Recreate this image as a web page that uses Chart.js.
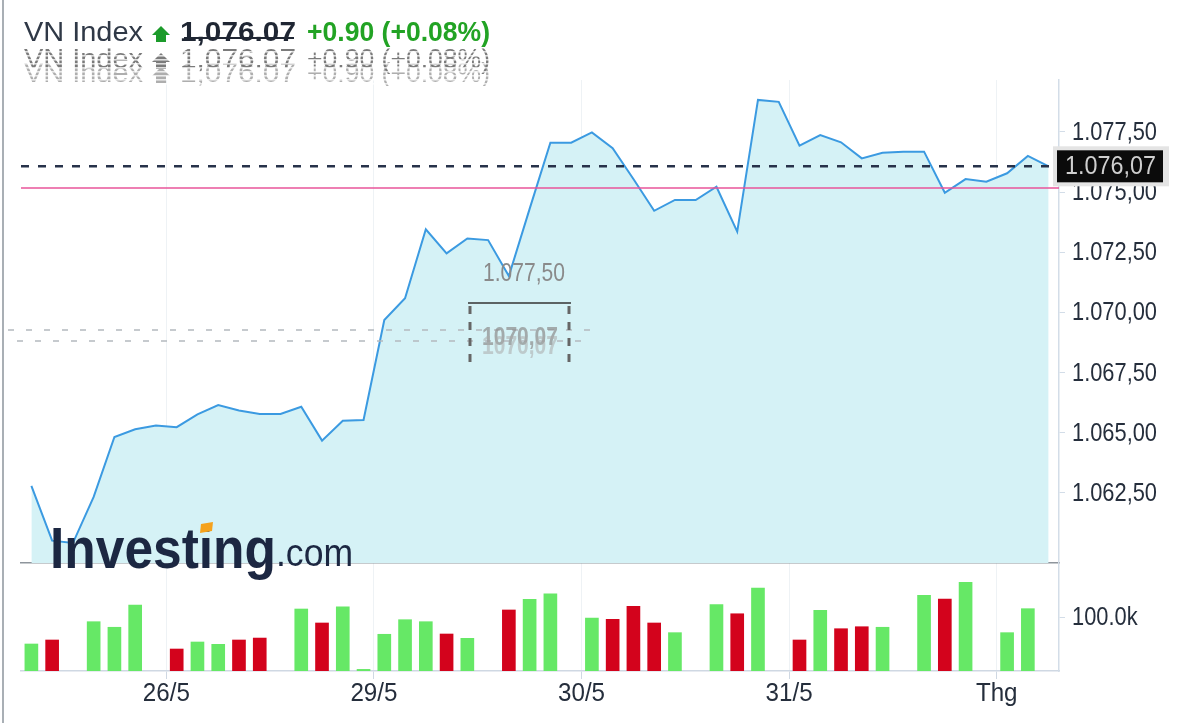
<!DOCTYPE html>
<html lang="vi">
<head>
<meta charset="UTF-8">
<title>VN Index</title>
<style>
  html, body { margin: 0; padding: 0; background: #fff; }
  #wrap { position: relative; width: 1181px; height: 723px; overflow: hidden; }
  canvas { position: absolute; left: 0; }
  #vol { top: 563px; z-index: 1; }
  #price { top: 0; z-index: 2; }
</style>
</head>
<body>
<div id="wrap">
  <canvas id="vol" width="1181" height="160" style="width:1181px;height:160px"></canvas>
  <canvas id="price" width="1181" height="723" style="width:1181px;height:723px"></canvas>
</div>
<script src="https://cdn.jsdelivr.net/npm/chart.js@4.4.1/dist/chart.umd.min.js"></script>
<script>
// one slot per intraday bar, 10 slots per trading day
const prices = [
  1062.78, 1060.50, 1060.40, 1062.32, 1064.81, 1065.13, 1065.29, 1065.22, 1065.75, 1066.14,
  1065.91, 1065.77, 1065.77, 1066.07, 1064.66, 1065.49, 1065.52, 1069.68, 1070.58, 1073.45,
  1072.45, 1073.07, 1073.00, 1071.51, 1074.30, 1077.05, 1077.05, 1077.48, 1076.82, 1075.54,
  1074.22, 1074.67, 1074.67, 1075.22, 1073.35, 1078.83, 1078.75, 1076.93, 1077.37, 1077.07,
  1076.40, 1076.63, 1076.68, 1076.68, 1074.97, 1075.54, 1075.43, 1075.78, 1076.50, 1076.07
];
const volumes = [
  50000, 57400, null, 91300, 81000, 122000, null, 40700, 53700, 49400,
  57400, 61000, null, 114800, 88900, 119000, 3000, 68000, 95000, 91300,
  68500, 60500, null, 113000, 132700, 143000, null, 98000, 95700, 119800,
  88900, 71000, null, 122800, 106000, 153700, null, 57400, 112400, 78300,
  82000, 81000, null, 140000, 133300, 164000, null, 71000, 115400, null
];
const volDir = [
  'u','d',null,'u','u','u',null,'d','u','u',
  'd','d',null,'u','d','u','u','u','u','u',
  'd','u',null,'d','u','u',null,'u','d','d',
  'd','u',null,'u','d','u',null,'d','u','d',
  'd','u',null,'u','d','u',null,'u','u',null
];
const dayLabels = ['26/5', '29/5', '30/5', '31/5', 'Thg'];
const daySlots = [6.5, 16.5, 26.5, 36.5, 46.5];
const priceTicks = [1062.5, 1065, 1067.5, 1070, 1072.5, 1075, 1077.5];
const volTicks = [100000];
const lastPrice = 1076.07;
const prevClose = 1075.17;
const change = '+0.90';
const changePct = '(+0.08%)';

const SANS = '"Liberation Sans", Arial, sans-serif';
const TXT = '#252e3c';
const AXIS = '#d3dde8';

function fmtVN(v) {
  const p = v.toFixed(2).split('.');
  return p[0].replace(/\B(?=(\d{3})+(?!\d))/g, '.') + ',' + p[1];
}

function fitText(ctx, text, x, y, w) {
  const m = ctx.measureText(text).width;
  ctx.save();
  ctx.translate(x, y);
  if (w && m > 0) ctx.scale(w / m, 1);
  ctx.fillText(text, 0, 0);
  ctx.restore();
}

function squeezeText(ctx, text, x, y, k) {
  ctx.save();
  ctx.translate(x, y);
  ctx.scale(k, 1);
  ctx.fillText(text, 0, 0);
  ctx.restore();
}

// tick labels in the tall, narrow face of the original
const narrowLabels = {
  id: 'narrowLabels',
  afterDraw(chart) {
    const ctx = chart.ctx;
    ctx.save();
    ctx.fillStyle = TXT;
    ctx.font = '26px ' + SANS;
    ctx.textBaseline = 'middle';
    const y = chart.scales.y;
    ctx.textAlign = 'left';
    y.ticks.forEach((t, i) => {
      const label = y.options.ticks.callback(t.value, i, y.ticks);
      squeezeText(ctx, label, y.left + 13, y.getPixelForValue(t.value) + 1, 0.84);
    });
    const x = chart.scales.x;
    if (chart.canvas.id === 'vol') {
      ctx.textAlign = 'center';
      x.ticks.forEach((t, i) => {
        const label = x.options.ticks.callback(t.value, i, x.ticks);
        squeezeText(ctx, label, x.getPixelForValue(t.value), x.top + 23, 0.93);
      });
    }
    ctx.restore();
  }
};

function drawHeader(ctx, y, ghost) {
  ctx.font = '28px ' + SANS;
  ctx.fillStyle = ghost || '#2f3846';
  fitText(ctx, 'VN Index', 24, y, 119);
  // up arrow
  ctx.fillStyle = ghost || '#1c9b2b';
  ctx.beginPath();
  ctx.moveTo(161, y - 15); ctx.lineTo(170, y - 6); ctx.lineTo(152, y - 6); ctx.closePath();
  ctx.fill();
  ctx.fillRect(156, y - 6, 10, 7);
  ctx.font = (ghost ? '' : 'bold ') + '28px ' + SANS;
  ctx.fillStyle = ghost || '#1f2633';
  fitText(ctx, lastPrice.toLocaleString('en-US', { minimumFractionDigits: 2 }), 180, y, 116);
  ctx.fillStyle = ghost || '#22a324';
  fitText(ctx, change + ' ' + changePct, 307, y, 183);
}

const overlay = {
  id: 'overlay',
  afterDraw(chart) {
    const ctx = chart.ctx;
    const a = chart.chartArea;
    const ys = chart.scales.y;
    ctx.save();

    // previous close (pink) and last price (dashed)
    const yPrev = ys.getPixelForValue(prevClose);
    ctx.strokeStyle = '#e8559a';
    ctx.lineWidth = 1.6;
    ctx.beginPath(); ctx.moveTo(a.left, yPrev); ctx.lineTo(a.right, yPrev); ctx.stroke();

    const yLast = ys.getPixelForValue(lastPrice);
    ctx.strokeStyle = '#27324a';
    ctx.lineWidth = 2.6;
    ctx.setLineDash([8, 9]);
    ctx.beginPath(); ctx.moveTo(a.left, yLast); ctx.lineTo(a.right, yLast); ctx.stroke();
    ctx.setLineDash([]);

    // last price label box
    ctx.fillStyle = '#e4e4e4';
    ctx.fillRect(a.right - 6, yLast - 20, 116, 40);
    ctx.fillStyle = '#0b0b0b';
    ctx.fillRect(a.right - 2, yLast - 16, 106, 32);
    ctx.fillStyle = '#cfcfcf';
    ctx.font = '26px ' + SANS;
    ctx.textBaseline = 'middle';
    fitText(ctx, fmtVN(lastPrice), a.right + 6, yLast + 1, 91);
    ctx.textBaseline = 'alphabetic';

    // crosshair leftovers
    ctx.strokeStyle = '#b4b9be';
    ctx.lineWidth = 1.5;
    ctx.setLineDash([6, 12]);
    ctx.beginPath(); ctx.moveTo(8, 330); ctx.lineTo(590, 330); ctx.stroke();
    ctx.lineDashOffset = 9;
    ctx.beginPath(); ctx.moveTo(8, 341); ctx.lineTo(590, 341); ctx.stroke();
    ctx.lineDashOffset = 0;
    ctx.strokeStyle = '#666';
    ctx.lineWidth = 3;
    ctx.setLineDash([8, 8]);
    ctx.beginPath(); ctx.moveTo(470, 306); ctx.lineTo(470, 368); ctx.stroke();
    ctx.beginPath(); ctx.moveTo(569, 306); ctx.lineTo(569, 368); ctx.stroke();
    ctx.setLineDash([]);
    ctx.strokeStyle = '#333';
    ctx.lineWidth = 1.5;
    ctx.beginPath(); ctx.moveTo(468, 303); ctx.lineTo(571, 303); ctx.stroke();
    ctx.font = '26px ' + SANS;
    ctx.fillStyle = '#8a8a8a';
    fitText(ctx, fmtVN(1077.5), 483, 281, 82);
    ctx.font = 'bold 26px ' + SANS;
    ctx.fillStyle = 'rgba(140,140,140,0.7)';
    fitText(ctx, '1070,07', 482, 345, 76);
    ctx.fillStyle = 'rgba(170,170,170,0.55)';
    fitText(ctx, '1070,07', 482, 354, 76);

    // header and its ghost copies
    drawHeader(ctx, 41, null);
    ctx.strokeStyle = '#1f2633';
    ctx.lineWidth = 2;
    ctx.beginPath(); ctx.moveTo(184, 38); ctx.lineTo(294, 38); ctx.stroke();
    ctx.save();
    ctx.beginPath(); ctx.rect(0, 46, 520, 40); ctx.clip();
    drawHeader(ctx, 68, 'rgba(90,90,90,0.8)');
    drawHeader(ctx, 82, 'rgba(120,120,120,0.6)');
    ctx.fillStyle = 'rgba(255,255,255,0.75)';
    for (let y = 47; y < 86; y += 4) ctx.fillRect(0, y, 520, 1.6);
    ctx.restore();

    // logo
    ctx.fillStyle = '#1c2742';
    ctx.font = 'bold 57px ' + SANS;
    fitText(ctx, 'Investing', 50, 568, 226);
    ctx.font = '38px ' + SANS;
    fitText(ctx, '.com', 276, 566, 77);
    ctx.fillStyle = '#f5a21d';
    ctx.beginPath();
    ctx.moveTo(201, 524); ctx.lineTo(213, 522); ctx.lineTo(212, 531); ctx.lineTo(200, 533);
    ctx.closePath(); ctx.fill();

    // frame edge
    ctx.strokeStyle = '#a9afb5';
    ctx.lineWidth = 2;
    ctx.beginPath(); ctx.moveTo(3, 0); ctx.lineTo(3, 723); ctx.stroke();
    ctx.restore();
  }
};

new Chart(document.getElementById('price'), {
  type: 'line',
  data: {
    datasets: [{
      data: prices.map((y, i) => ({ x: i, y: y })),
      borderColor: '#3b9ae1',
      borderWidth: 2,
      backgroundColor: '#d5f2f6',
      fill: 'start',
      pointRadius: 0,
      tension: 0
    }]
  },
  options: {
    responsive: false,
    animation: false,
    events: [],
    layout: { padding: { left: 21, top: 80, right: 0, bottom: 160 } },
    plugins: { legend: { display: false }, tooltip: { enabled: false } },
    scales: {
      x: {
        type: 'linear', min: -0.5, max: 49.5, offset: false,
        afterBuildTicks: s => { s.ticks = daySlots.map(v => ({ value: v })); },
        afterFit: s => { s.height = 0; },
        ticks: { display: false },
        grid: { color: '#eef2f5', drawTicks: false, offset: false },
        border: { display: true, color: '#8e959c', width: 1.5 }
      },
      y: {
        position: 'right', min: 1059.57, max: 1079.66,
        afterBuildTicks: s => { s.ticks = priceTicks.map(v => ({ value: v })); },
        afterFit: s => { s.width = 122; },
        ticks: { display: false, callback: v => fmtVN(v) },
        grid: { drawOnChartArea: false, tickLength: 6, color: AXIS },
        border: { color: AXIS, width: 1.5 }
      }
    }
  },
  plugins: [narrowLabels, overlay]
});

new Chart(document.getElementById('vol'), {
  type: 'bar',
  data: {
    datasets: [{
      data: volumes.map((y, i) => ({ x: i, y: y })),
      backgroundColor: volDir.map(d => d === 'd' ? '#d3031c' : '#66e866'),
      barThickness: 13
    }]
  },
  options: {
    responsive: false,
    animation: false,
    events: [],
    layout: { padding: { left: 21, top: 0, right: 0, bottom: 0 } },
    plugins: { legend: { display: false }, tooltip: { enabled: false } },
    scales: {
      x: {
        type: 'linear', min: -0.5, max: 49.5, offset: false,
        afterBuildTicks: s => { s.ticks = daySlots.map(v => ({ value: v })); },
        afterFit: s => { s.height = 52; },
        ticks: { display: false, callback: (v, i) => dayLabels[i] },
        grid: { color: '#eef2f5', tickColor: '#cfd8e3', tickLength: 8, offset: false },
        border: { color: '#cfd8e3', width: 1.5 }
      },
      y: {
        position: 'right', min: 0, max: 200000,
        afterBuildTicks: s => { s.ticks = volTicks.map(v => ({ value: v })); },
        afterFit: s => { s.width = 122; },
        ticks: { display: false, callback: v => (v / 1000).toFixed(1) + 'k' },
        grid: { drawOnChartArea: false, tickLength: 6, color: AXIS },
        border: { color: AXIS, width: 1.5 }
      }
    }
  },
  plugins: [narrowLabels]
});
</script>
</body>
</html>
